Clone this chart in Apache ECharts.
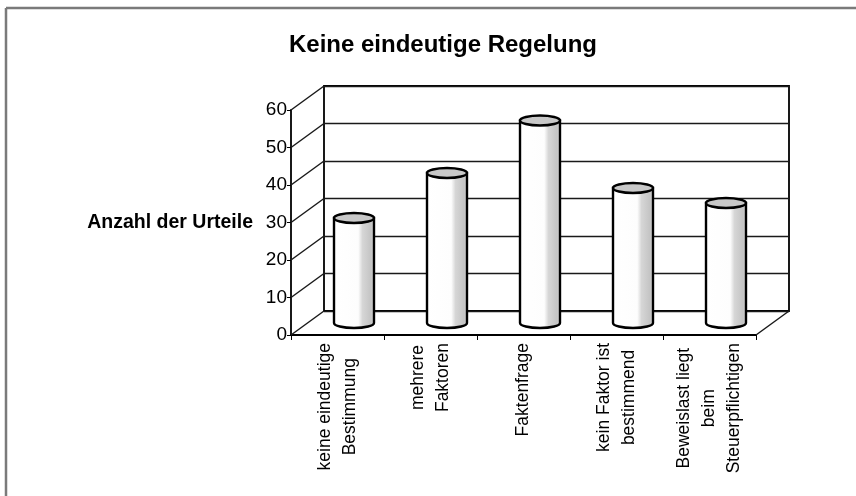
<!DOCTYPE html>
<html>
<head>
<meta charset="utf-8">
<title>Keine eindeutige Regelung</title>
<script src="https://cdn.jsdelivr.net/npm/echarts@6/dist/echarts.min.js"></script>
<style>
  html, body { margin: 0; padding: 0; background: #fff; }
  #chart { width: 856px; height: 496px; }
</style>
</head>
<body>
<div id="chart"></div>
<script>
  // Werte
  const categories = [
    'keine eindeutige\nBestimmung',
    'mehrere\nFaktoren',
    'Faktenfrage',
    'kein Faktor ist\nbestimmend',
    'Beweislast liegt\nbeim\nSteuerpflichtigen'
  ];
  const urteile = [28, 40, 54, 36, 32];
  const yTicks = [0, 10, 20, 30, 40, 50, 60];

  // Versatz der Rueckwand gegenueber der Vorderkante (Pseudo-3D)
  const DX = 33;
  const DY = -24;
  const FONT = '"Liberation Sans", Arial, Helvetica, sans-serif';

  const chart = echarts.init(document.getElementById('chart'));

  // schraege Linien der linken Seitenwand + rechte Bodenkante
  function renderWall(params, api) {
    const v = api.value(1);
    const p = api.coord([0, v]);
    const x0 = params.coordSys.x;
    const style = {stroke: '#1a1a1a', lineWidth: 1.4};
    const children = [{
      type: 'line',
      shape: {x1: x0, y1: p[1], x2: x0 + DX, y2: p[1] + DY},
      style: style
    }];
    if (v === 0) {
      const x1 = params.coordSys.x + params.coordSys.width;
      children.push({
        type: 'line',
        shape: {x1: x1, y1: p[1], x2: x1 + DX, y2: p[1] + DY},
        style: style
      });
    }
    return {type: 'group', children: children};
  }

  function renderCylinder(params, api) {
    const idx = api.value(0);
    const base = api.coord([idx, 0]);
    const top = api.coord([idx, api.value(1)]);
    const w = api.size([1, 0])[0] * 0.43;
    const cx = base[0] + DX / 2;
    const yb = base[1] + DY / 2;
    const yt = top[1] + DY / 2;
    const rx = w / 2, ry = 5;
    const xl = cx - rx, xr = cx + rx;
    const body = 'M' + xl + ',' + yt + ' L' + xl + ',' + yb +
      ' A' + rx + ',' + ry + ' 0 0 0 ' + xr + ',' + yb +
      ' L' + xr + ',' + yt + ' Z';
    return {
      type: 'group',
      children: [{
        type: 'path',
        shape: {pathData: body},
        style: {
          fill: {
            type: 'linear', x: 0, y: 0, x2: 1, y2: 0,
            colorStops: [
              {offset: 0, color: '#ffffff'},
              {offset: 0.6, color: '#fdfdfd'},
              {offset: 0.7, color: '#d6d6d6'},
              {offset: 0.9, color: '#c4c4c4'},
              {offset: 1, color: '#dcdcdc'}
            ]
          },
          stroke: '#000',
          lineWidth: 2.4
        }
      }, {
        type: 'ellipse',
        shape: {cx: cx, cy: yt, rx: rx, ry: ry},
        style: {fill: '#c8c8c8', stroke: '#000', lineWidth: 2.4}
      }]
    };
  }

  const option = {
    backgroundColor: '#fff',
    animation: false,
    title: {
      text: 'Keine eindeutige Regelung',
      left: 438,
      top: 28,
      textAlign: 'center',
      textStyle: {
        fontFamily: FONT,
        fontSize: 24,
        fontWeight: 'bold',
        color: '#000'
      }
    },
    graphic: [
      // Rahmen der Vorlage
      {type: 'line', shape: {x1: 6, y1: 8, x2: 856, y2: 8}, style: {stroke: '#7a7a7a', lineWidth: 2.5}},
      {type: 'line', shape: {x1: 6, y1: 8, x2: 6, y2: 496}, style: {stroke: '#7a7a7a', lineWidth: 2.5}}
    ],
    grid: [
      // Vorderkante
      {left: 291, top: 110, width: 465, height: 225},
      // Rueckwand
      {left: 291 + DX, top: 110 + DY, width: 465, height: 225,
        show: true, borderColor: '#000', borderWidth: 1.8, backgroundColor: 'transparent'}
    ],
    xAxis: [{
      type: 'category',
      gridIndex: 0,
      data: categories,
      axisLine: {lineStyle: {color: '#000', width: 1.8}},
      axisTick: {show: true, length: 5, interval: 0, lineStyle: {color: '#000'}},
      axisLabel: {
        interval: 0,
        rotate: 90,
        margin: 8,
        color: '#000',
        formatter: (value) => value.split('\n').map(s => '{c|' + s + '}').join('\n'),
        rich: {
          c: {fontFamily: FONT, fontSize: 17.5, lineHeight: 25, align: 'center', color: '#000'}
        }
      }
    }, {
      type: 'category',
      gridIndex: 1,
      data: categories,
      show: false
    }],
    yAxis: [{
      type: 'value',
      gridIndex: 0,
      min: 0,
      max: 60,
      interval: 10,
      name: 'Anzahl der Urteile',
      nameLocation: 'middle',
      nameRotate: 0,
      nameGap: 38,
      nameTextStyle: {fontFamily: FONT, fontSize: 19.5, fontWeight: 'bold', color: '#000'},
      axisLine: {show: true, lineStyle: {color: '#000', width: 1.8}},
      axisTick: {show: true, length: 4, lineStyle: {color: '#000'}},
      axisLabel: {fontFamily: FONT, fontSize: 19, color: '#000', margin: 4},
      splitLine: {show: false}
    }, {
      type: 'value',
      gridIndex: 1,
      min: 0,
      max: 60,
      interval: 10,
      axisLine: {show: false},
      axisTick: {show: false},
      axisLabel: {show: false},
      splitLine: {show: true, lineStyle: {color: '#1a1a1a', width: 1.4}}
    }],
    series: [{
      type: 'custom',
      xAxisIndex: 0,
      yAxisIndex: 0,
      renderItem: renderWall,
      data: yTicks.map(v => [0, v]),
      z: 1
    }, {
      type: 'custom',
      xAxisIndex: 0,
      yAxisIndex: 0,
      renderItem: renderCylinder,
      data: urteile.map((v, i) => [i, v]),
      z: 5
    }]
  };

  chart.setOption(option);
  window.onresize = chart.resize;
</script>
</body>
</html>
